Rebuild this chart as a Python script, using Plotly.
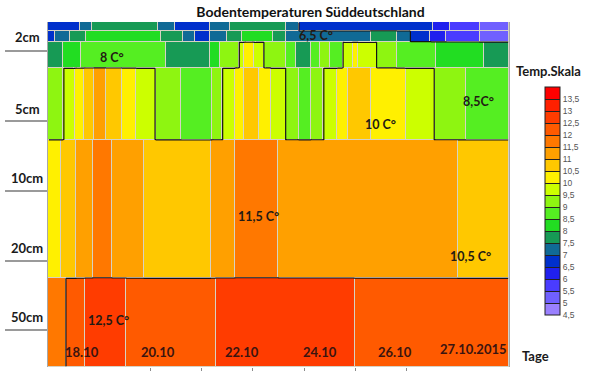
import numpy as np
import plotly.graph_objects as go

# ---------------- colour scale (°C) ----------------
TEMP_MIN = 4.5
TEMP_MAX = 14.0
scale_colors = ["#9a80ff", "#7060ff", "#4a3cff", "#2020ee", "#0030cc", "#106a96",
                "#179a55", "#22dd22", "#55ee22", "#8ef511", "#ccff00", "#fff000",
                "#ffc800", "#ffa000", "#ff7800", "#ff5a00", "#ff3c00", "#ff2000", "#ff0000"]
scale_ticks = [4.5, 5, 5.5, 6, 6.5, 7, 7.5, 8, 8.5, 9, 9.5, 10, 10.5, 11, 11.5, 12, 12.5, 13, 13.5]
scale_tick_labels = ["4,5", "5", "5,5", "6", "6,5", "7", "7,5", "8", "8,5", "9", "9,5",
                     "10", "10,5", "11", "11,5", "12", "12,5", "13", "13,5"]

# ---------------- depth layers ----------------
depth_edges = [0, 9, 20, 46, 118, 256, 345]
depth_ticks = [29, 99, 169, 239, 308]
depth_labels = ["2cm", "5cm", "10cm", "20cm", "50cm"]
depth_label_pos = [15, 87, 156, 226, 295]

# ---------------- temperatures per layer (x = time, in half-tick units 0..18) ----------------
layer_a_x = [0, 1.23, 1.73, 4.30, 4.95, 6.33, 7.10, 9.29, 9.79, 15.04, 15.69, 16.85, 18]
layer_a_t = [6.75, 7.25, 7.75, 7.25, 6.75, 7.25, 7.75, 7.25, 6.75, 6.25, 5.75, 5.25]

layer_b_x = [0, 0.27, 0.84, 1.50, 4.41, 5.26, 5.72, 6.33, 6.98, 7.56, 8.79, 9.29, 12.62,
             13.62, 14.16, 14.93, 15.54, 16.85, 18]
layer_b_t = [6.75, 7.25, 7.75, 8.25, 7.75, 7.25, 6.75, 7.25, 7.75, 8.25, 7.75, 7.25, 7.75,
             7.25, 6.75, 6.25, 5.75, 5.25]

layer_c_x = [0, 0.58, 1.30, 4.60, 6.33, 6.72, 7.44, 7.67, 8.06, 8.44, 9.29, 9.67, 10.25,
             10.63, 11.01, 11.51, 11.90, 12.09, 12.85, 13.62, 15.16, 17.04, 18]
layer_c_t = [7.75, 8.25, 8.75, 7.75, 8.25, 9.25, 9.75, 10.25, 9.75, 9.25, 8.75, 7.75,
             8.75, 9.25, 8.75, 9.75, 10.25, 9.75, 9.25, 8.75, 8.25, 7.75]

layer_d_x = [0, 0.58, 1.04, 1.42, 1.80, 2.26, 2.88, 3.45, 4.22, 5.18, 6.41, 6.79, 7.29,
             7.67, 8.25, 8.71, 9.29, 9.79, 10.25, 10.74, 11.28, 11.70, 12.62, 13.97,
             15.12, 16.31, 18]
layer_d_t = [9.25, 9.75, 10.25, 10.75, 11.25, 10.75, 10.25, 9.75, 9.25, 8.75, 9.25, 9.75,
             10.25, 10.75, 10.25, 9.75, 9.25, 8.75, 9.25, 9.75, 10.25, 10.75, 10.25, 9.75,
             9.25, 8.75]

layer_e_x = [0, 0.50, 1.11, 1.77, 2.49, 3.76, 6.37, 7.29, 8.98, 16.00, 18]
layer_e_t = [10.25, 10.75, 11.25, 11.75, 11.25, 10.75, 11.25, 11.75, 11.25, 10.75]

layer_f_x = [0, 0.69, 1.46, 3.03, 6.56, 11.97, 18]
layer_f_t = [11.75, 12.25, 12.75, 12.25, 12.75, 12.25]

layers = [(layer_a_x, layer_a_t), (layer_b_x, layer_b_t), (layer_c_x, layer_c_t),
          (layer_d_x, layer_d_t), (layer_e_x, layer_e_t), (layer_f_x, layer_f_t)]

# ---------------- labels ----------------
day_ticks = [4, 6, 8, 10, 12, 14]
date_labels = ["18.10", "20.10", "22.10", "24.10", "26.10", "27.10.2015"]
date_label_x = [1.32, 4.30, 7.58, 10.63, 13.56, 16.63]
date_label_y = [330, 330, 330, 330, 330, 327]

temp_notes = ["8 C°", "6,5 C°", "8,5C°", "10 C°", "11,5 C°", "10,5 C°", "12,5 C°"]
temp_note_x = [2.49, 10.48, 16.81, 12.97, 8.21, 16.5, 2.38]
temp_note_y = [35, 13, 79, 102, 194, 234, 298]

outline_levels = [9.7, 12.0]
surface_outline_level = 7.0

FONT = "Lato"

# discrete colour scale
n_bins = len(scale_colors)
colorscale = []
for i, c in enumerate(scale_colors):
    colorscale.append([i / n_bins, c])
    colorscale.append([(i + 1) / n_bins, c])

fig = go.Figure()

for (ex, vals), y0, y1 in zip(layers, depth_edges[:-1], depth_edges[1:]):
    fig.add_trace(go.Heatmap(
        x=ex, y=[y0, y1], z=[vals], coloraxis="coloraxis",
        xgap=1, ygap=1, hoverinfo="skip", showlegend=False))


def temp_grid(xs, ys):
    Z = np.empty((len(ys), len(xs)))
    for j, yv in enumerate(ys):
        r = int(np.searchsorted(depth_edges, yv, side="right")) - 1
        r = min(max(r, 0), len(layers) - 1)
        ex, vals = layers[r]
        k = np.clip(np.searchsorted(ex, xs, side="right") - 1, 0, len(vals) - 1)
        Z[j] = np.asarray(vals)[k]
    return Z


gx = np.round(np.arange(0.025, 18, 0.05), 3)
gy = np.arange(0.5, 345, 1.0)
Z = temp_grid(gx, gy)
for lvl in outline_levels:
    fig.add_trace(go.Contour(
        x=gx, y=gy, z=Z, autocontour=False,
        contours=dict(start=lvl, end=lvl, size=1, coloring="none"),
        line=dict(color="#141414", width=1.2, smoothing=0.8),
        showscale=False, showlegend=False, hoverinfo="skip"))

gx2 = gx[gx >= 9.7]
gy2 = gy[gy < 46]
Z2 = temp_grid(gx2, gy2)
fig.add_trace(go.Contour(
    x=gx2, y=gy2, z=Z2, autocontour=False,
    contours=dict(start=surface_outline_level, end=surface_outline_level, size=1, coloring="none"),
    line=dict(color="#141414", width=1.2, smoothing=0.8),
    showscale=False, showlegend=False, hoverinfo="skip"))

annotations = []
for t, yv in zip(depth_labels, depth_label_pos):
    annotations.append(dict(text="<b>" + t + "</b>", x=-0.0448, xref="paper", y=yv, yref="y",
                            showarrow=False, xanchor="center", yanchor="middle",
                            font=dict(family=FONT, size=13, color="#1a1a1a")))
for t, xv, yv in zip(date_labels, date_label_x, date_label_y):
    annotations.append(dict(text="<b>" + t + "</b>", x=xv, y=yv, xref="x", yref="y",
                            showarrow=False, xanchor="center", yanchor="middle",
                            font=dict(family=FONT, size=13, color="#3a1410")))
for t, xv, yv in zip(temp_notes, temp_note_x, temp_note_y):
    annotations.append(dict(text="<b>" + t + "</b>", x=xv, y=yv, xref="x", yref="y",
                            showarrow=False, xanchor="center", yanchor="middle",
                            font=dict(family=FONT, size=12.5, color="#231a14")))
annotations.append(dict(text="<b>Tage</b>", x=1.0576, y=0.032, xref="paper", yref="paper",
                        showarrow=False, xanchor="center", yanchor="middle",
                        font=dict(family=FONT, size=13, color="#1a1a1a")))
annotations.append(dict(text="<b>Temp.Skala</b>", x=1.086, y=0.858, xref="paper", yref="paper",
                        showarrow=False, xanchor="center", yanchor="middle",
                        font=dict(family=FONT, size=13, color="#1a1a1a")))

fig.update_layout(
    width=600, height=371, autosize=False, showlegend=False,
    margin=dict(l=48, r=83, t=22, b=4),
    paper_bgcolor="white", plot_bgcolor="#d6d2c4",
    title=dict(text="<b>Bodentemperaturen Süddeutschland</b>", x=0.5175, xref="container",
               xanchor="center", y=0.968, yref="container", yanchor="middle",
               font=dict(family=FONT, size=14, color="#111")),
    coloraxis=dict(
        cmin=TEMP_MIN, cmax=TEMP_MAX, colorscale=colorscale,
        colorbar=dict(
            thickness=15, thicknessmode="pixels", len=228, lenmode="pixels",
            x=1.0789, xanchor="left", xpad=0, y=0.481, yanchor="middle", ypad=0,
            outlinewidth=1, outlinecolor="#222",
            tickmode="array", tickvals=scale_ticks, ticktext=scale_tick_labels,
            ticks="inside", ticklen=15, tickcolor="#222", tickwidth=1,
            tickfont=dict(family="Liberation Sans", size=8.5, color="#555"),
        )),
    xaxis=dict(range=[0, 18], tickmode="array", tickvals=day_ticks, ticks="outside",
               ticklen=8, tickcolor="#8a8a8a", tickwidth=1, showticklabels=False,
               showgrid=False, zeroline=False, automargin=False),
    yaxis=dict(range=[345, 0], tickmode="array", tickvals=depth_ticks, ticks="outside",
               ticklen=42, tickcolor="#9a9a9a", tickwidth=1.5, showticklabels=False,
               showgrid=False, zeroline=False, showline=True, mirror=True,
               linecolor="#a8a8a8", linewidth=1, automargin=False),
    annotations=annotations,
)

fig.write_html("out.html", config={"displayModeBar": False},
               post_script="document.body.style.margin='0';")
